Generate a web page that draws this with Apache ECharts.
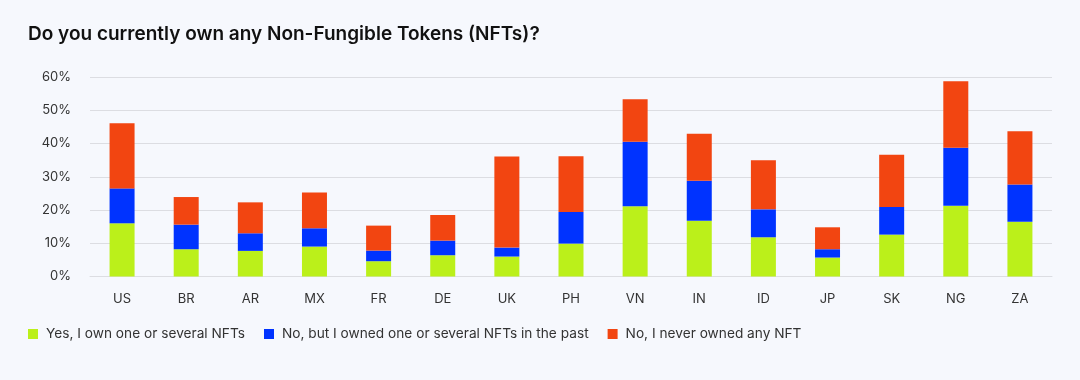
<!DOCTYPE html>
<html><head><meta charset="utf-8">
<script src="https://cdn.jsdelivr.net/npm/echarts@6/dist/echarts.min.js"></script>
<style>html,body{margin:0;padding:0;background:#f6f8fd;}#c{width:1080px;height:380px;}</style>
</head><body><div id="c"></div>
<script>
const categories = ['US','BR','AR','MX','FR','DE','UK','PH','VN','IN','ID','JP','SK','NG','ZA'];
const seriesNames = ['Yes, I own one or several NFTs','No, but I owned one or several NFTs in the past','No, I never owned any NFT'];
const ownNow   = [16.0, 8.2, 7.7, 9.0, 4.6, 6.4, 6.0, 9.9, 21.1, 16.8, 11.8, 5.7, 12.6, 21.3, 16.5];
const ownedPast= [10.5, 7.4, 5.3, 5.5, 3.2, 4.4, 2.7, 9.5, 19.4, 12.0, 8.4, 2.5, 8.3, 17.4, 11.2];
const neverOwned=[19.6, 8.3, 9.3,10.8, 7.5, 7.7,27.4,16.8, 12.8, 14.1, 14.8, 6.6, 15.7, 20.0, 16.0];
const colors = ['#bbf01a','#0033ff','#f24511'];
const yTicks = {min:0, max:60, interval:10};

const chart = echarts.init(document.getElementById('c'));
const font = 'Inter, "Noto Sans", sans-serif';
chart.setOption({
  backgroundColor:'#f6f8fd',
  animation:false,
  title:{text:'Do you currently own any Non-Fungible Tokens (NFTs)?', left:23, top:20,
    textStyle:{fontFamily:font, fontSize:19, fontWeight:600, color:'#111'}},
  legend:{left:23, top:322, itemWidth:10, itemHeight:10, itemGap:19, icon:'rect',
    textStyle:{fontFamily:font, fontSize:13.7, color:'#333', padding:[0,0,0,3]}},
  grid:{left:90, right:28, top:77, bottom:103.5},
  xAxis:{type:'category', data:categories,
    axisLine:{lineStyle:{color:'#dcdde2'}}, axisTick:{show:false},
    axisLabel:{fontFamily:font, fontSize:13, color:'#333', margin:16}},
  yAxis:{type:'value', min:yTicks.min, max:yTicks.max, interval:yTicks.interval,
    axisLabel:{formatter:'{value}%', fontFamily:font, fontSize:13, color:'#333', margin:19},
    splitLine:{lineStyle:{color:'#dcdde2'}}, axisLine:{show:false}, axisTick:{show:false}},
  series:[ownNow, ownedPast, neverOwned].map((d,i)=>({
    name:seriesNames[i], type:'bar', stack:'a', data:d, barWidth:25,
    itemStyle:{color:colors[i]}
  }))
});
</script></body></html>
